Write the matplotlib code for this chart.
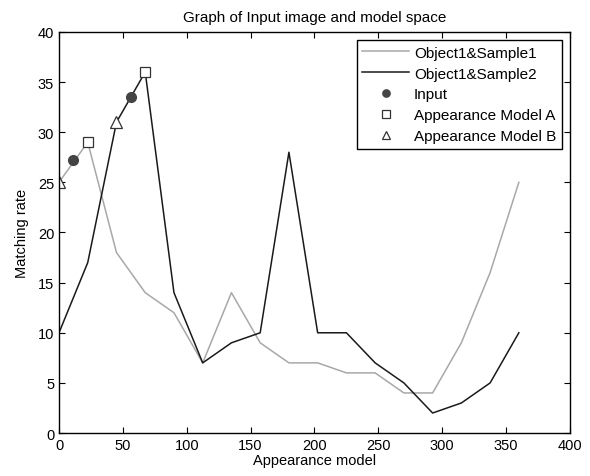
import numpy as np
import matplotlib.pyplot as plt

plt.rcParams['font.family'] = ['Liberation Sans', 'DejaVu Sans']

angles = [0, 22.5, 45, 67.5, 90, 112.5, 135, 157.5, 180, 202.5, 225, 247.5,
          270, 292.5, 315, 337.5, 360]
sample1 = [25, 29, 18, 14, 12, 7, 14, 9, 7, 7, 6, 6, 4, 4, 9, 16, 25]
sample2 = [10, 17, 31, 36, 14, 7, 9, 10, 28, 10, 10, 7, 5, 2, 3, 5, 10]

input_x = [11.25, 56.25]
input_y = [27.2, 33.5]
model_a_x = [22.5, 67.5]
model_a_y = [29, 36]
model_b_x = [0, 45]
model_b_y = [25, 31]

fig = plt.figure(figsize=(5.9, 4.77), dpi=100)
ax = fig.add_axes([0.1, 0.09, 0.866, 0.841])

ax.plot(angles, sample1, color='#a8a8a8', lw=1.1, label='Object1&Sample1')
ax.plot(angles, sample2, color='#1a1a1a', lw=1.1, label='Object1&Sample2')
ax.plot(input_x, input_y, 'o', color='#444444', ms=7, ls='none', label='Input')
ax.plot(model_a_x, model_a_y, 's', mfc='white', mec='#333333', ms=7, mew=0.9,
        ls='none', label='Appearance Model A')
ax.plot(model_b_x, model_b_y, '^', mfc='white', mec='#333333', ms=8, mew=0.9,
        ls='none', label='Appearance Model B')

ax.set_xlim(0, 400)
ax.set_ylim(0, 40)
ax.set_xticks(np.arange(0, 401, 50))
ax.set_yticks(np.arange(0, 41, 5))
ax.tick_params(direction='in', top=True, right=True, labelsize=10.5, length=4)
for s in ax.spines.values():
    s.set_linewidth(1.0)

ax.set_xlabel('Appearance model', fontsize=10.5, labelpad=1)
ax.set_ylabel('Matching rate', fontsize=10.5, labelpad=6)
ax.set_title('Graph of Input image and model space', fontsize=11, pad=8)

leg = ax.legend(loc='upper right', fontsize=11, fancybox=False,
                edgecolor='black', framealpha=1, borderaxespad=0.55,
                handlelength=3.1, handletextpad=0.3, labelspacing=0.45,
                borderpad=0.35, markerscale=0.75)
leg.get_frame().set_linewidth(1.0)

fig.savefig('out.png', dpi=100)
